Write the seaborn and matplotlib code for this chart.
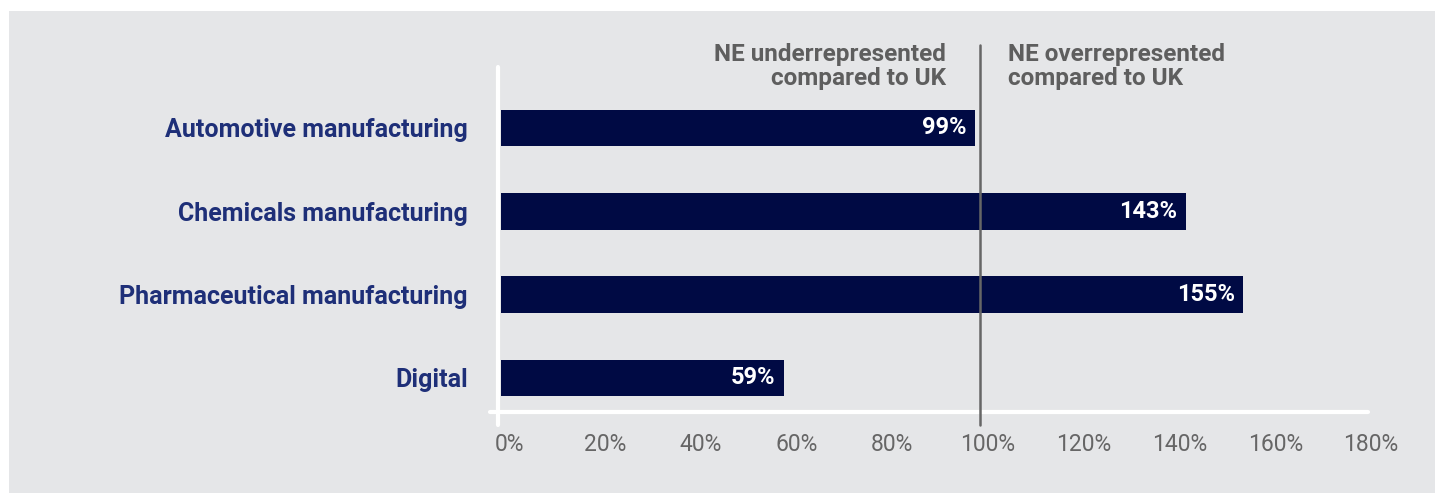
import pandas as pd
import matplotlib.pyplot as plt
import matplotlib.transforms as mtransforms
from matplotlib.patches import Rectangle
import seaborn as sns

sectors = ["Automotive manufacturing", "Chemicals manufacturing",
           "Pharmaceutical manufacturing", "Digital"]
shares = [99, 143, 155, 59]
tick_vals = [0, 20, 40, 60, 80, 100, 120, 140, 160, 180]
tick_labels = [f"{v}%" for v in tick_vals]

df = pd.DataFrame({"sector": sectors, "share": shares})

sns.set_style("white")
plt.rcParams['font.family'] = ['Roboto', 'DejaVu Sans']

bg = "#e5e6e8"
navy = "#000a44"
label_navy = "#1e2f78"
grey = "#5e5e5e"

fig = plt.figure(figsize=(14.35, 4.93), dpi=100)
fig.patch.set_facecolor("white")
fig.patches.append(Rectangle((9 / 1435, 0), 1 - 9 / 1435, 1 - 11 / 493,
                             transform=fig.transFigure, facecolor=bg,
                             edgecolor="none", zorder=-10))

ax = fig.add_axes([501 / 1435, 1 - 412 / 493, 862 / 1435, 345 / 493])
ax.set_facecolor("none")

sns.barplot(data=df, y="sector", x="share", orient="h", color=navy,
            width=0.44, saturation=1, linewidth=0, ax=ax)

ax.set_xlim(0, 180)
ax.set_ylim(3.41, -0.73)
for s in ax.spines.values():
    s.set_visible(False)

# white axis lines
ax.plot([-0.6, -0.6], [-0.73, 3.56], color="white", lw=3, clip_on=False, zorder=1)
ax.plot([-2.2, 181], [3.41, 3.41], color="white", lw=3, clip_on=False, zorder=1)

# 100% reference line
ax.plot([100, 100], [-0.99, 3.56], color="#666666", lw=1.8, clip_on=False, zorder=3)

ax.set_xticks(tick_vals)
ax.set_xticklabels(tick_labels, fontsize=16.5, color="#666666")
ax.tick_params(axis="x", length=0, pad=15)
ax.tick_params(axis="y", length=0, pad=24)
off = mtransforms.ScaledTranslation(8 / 100, 0, fig.dpi_scale_trans)
for lab in ax.get_xticklabels():
    lab.set_transform(lab.get_transform() + off)
for lab in ax.get_yticklabels():
    lab.set_fontsize(18)
    lab.set_fontweight("bold")
    lab.set_color(label_navy)
ax.set_xlabel("")
ax.set_ylabel("")

for i, v in enumerate(shares):
    ax.text(v - 1.8, i, f"{v}%", color="white", fontsize=17, fontweight="bold",
            ha="right", va="center", zorder=4)

ax.text(93, -1.02, "NE underrepresented\ncompared to UK", ha="right", va="top",
        fontsize=17.5, fontweight="bold", color=grey, linespacing=1.05)
ax.text(105.8, -1.02, "NE overrepresented\ncompared to UK", ha="left", va="top",
        fontsize=17.5, fontweight="bold", color=grey, linespacing=1.05)

fig.savefig("out.png", dpi=100)
